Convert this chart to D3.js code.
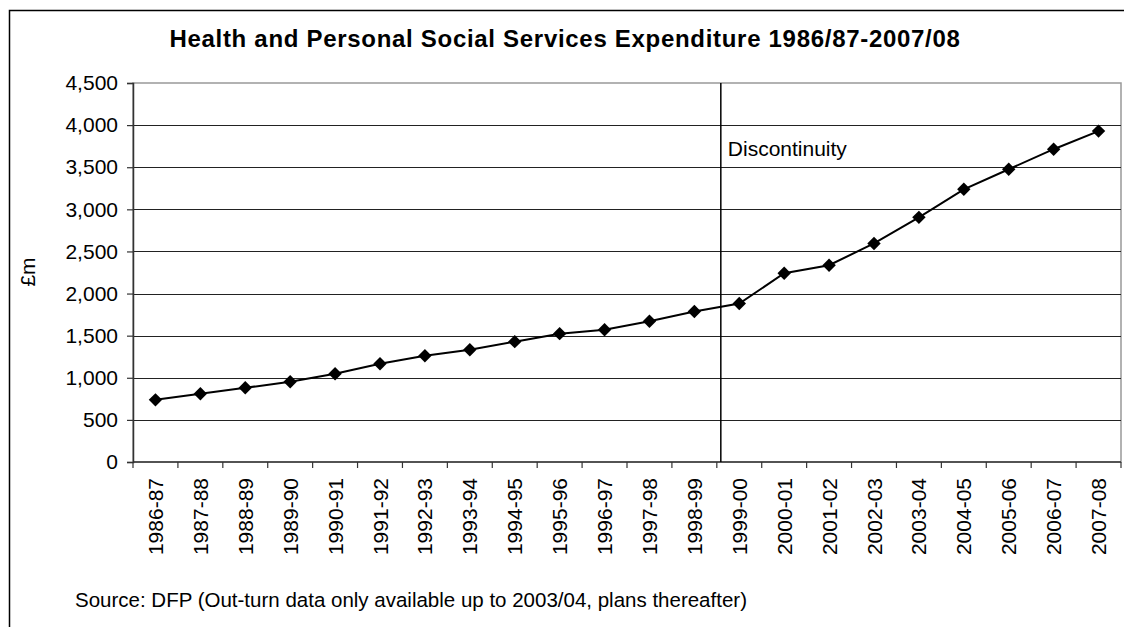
<!DOCTYPE html>
<html>
<head>
<meta charset="utf-8">
<script src="https://cdn.jsdelivr.net/npm/d3@7"></script>
<style>
  html, body { margin: 0; padding: 0; background: #fff; }
  svg { display: block; font-family: "Liberation Sans", Arial, sans-serif; }
</style>
</head>
<body>
<svg id="chart" width="1124" height="627"></svg>
<script>
// Financial years
const years = ["1986-87","1987-88","1988-89","1989-90","1990-91","1991-92","1992-93",
  "1993-94","1994-95","1995-96","1996-97","1997-98","1998-99","1999-00","2000-01",
  "2001-02","2002-03","2003-04","2004-05","2005-06","2006-07","2007-08"];
// Health and PSS expenditure, £m
const spend = [738, 810, 881, 952, 1048, 1167, 1262, 1333, 1429, 1524, 1571, 1671,
  1786, 1881, 2242, 2337, 2595, 2905, 3238, 3476, 3714, 3929];
const yTicks = [0, 500, 1000, 1500, 2000, 2500, 3000, 3500, 4000, 4500];
const breakYear = "1999-00";

const svg = d3.select("#chart");
const m = { left: 133, right: 1121, top: 83, bottom: 462 };

const x = d3.scaleBand().domain(years).range([m.left, m.right]);
const y = d3.scaleLinear().domain([0, 4500]).range([m.bottom, m.top]);

// outer chart frame
svg.append("rect").attr("x", 9.5).attr("y", 10.5).attr("width", 1130).attr("height", 640)
  .attr("fill", "#fff").attr("stroke", "#000").attr("stroke-width", 1.5);

// plot area frame
svg.append("rect").attr("x", m.left).attr("y", m.top)
  .attr("width", m.right - m.left).attr("height", m.bottom - m.top)
  .attr("fill", "#fff").attr("stroke", "#999").attr("stroke-width", 1.5);

// horizontal gridlines
svg.append("g").selectAll("line").data(yTicks.filter(d => d > 0 && d < 4500)).join("line")
  .attr("x1", m.left).attr("x2", m.right)
  .attr("y1", d => Math.round(y(d)) + 0.5).attr("y2", d => Math.round(y(d)) + 0.5)
  .attr("stroke", "#222").attr("stroke-width", 1);

// y axis
const yAxis = svg.append("g").attr("transform", `translate(${m.left},0)`)
  .call(d3.axisLeft(y).tickValues(yTicks).tickFormat(d3.format(",")).tickSizeOuter(0).tickSize(6).tickPadding(9));
yAxis.select(".domain").attr("stroke", "#333").attr("stroke-width", 1.5);
yAxis.selectAll(".tick line").attr("stroke", "#333").attr("stroke-width", 1.2);
yAxis.selectAll("text").attr("font-size", 21).attr("fill", "#000")
  .attr("font-family", "Liberation Sans, Arial, sans-serif");

// x axis with ticks on band edges
const xAxis = svg.append("g").attr("transform", `translate(0,${m.bottom})`);
xAxis.append("line").attr("x1", m.left).attr("x2", m.right)
  .attr("stroke", "#333").attr("stroke-width", 1.5);
const edges = years.map(d => x(d)).concat([m.right]);
xAxis.selectAll("line.tk").data(edges).join("line").attr("class", "tk")
  .attr("x1", d => d).attr("x2", d => d).attr("y1", 0).attr("y2", 6)
  .attr("stroke", "#333").attr("stroke-width", 1.2);
xAxis.selectAll("text").data(years).join("text")
  .attr("transform", d => `translate(${x(d) + x.bandwidth() / 2 + 7.5},16) rotate(-90)`)
  .attr("text-anchor", "end")
  .attr("font-size", 21).attr("fill", "#000")
  .text(d => d);

// y axis title
svg.append("text").attr("transform", "translate(35,272) rotate(-90)")
  .attr("text-anchor", "middle").attr("font-size", 21).text("£m");

// discontinuity marker
const bx = x(breakYear) + 4;
svg.append("line").attr("x1", bx).attr("x2", bx).attr("y1", m.top).attr("y2", m.bottom)
  .attr("stroke", "#000").attr("stroke-width", 1.5);
svg.append("text").attr("x", bx + 7).attr("y", 156).attr("font-size", 21).text("Discontinuity");

// expenditure line
const cx = d => x(d) + x.bandwidth() / 2;
svg.append("path").datum(years)
  .attr("fill", "none").attr("stroke", "#000").attr("stroke-width", 2)
  .attr("d", d3.line().x(d => cx(d)).y((d, i) => y(spend[i])));

// diamond markers
const diamond = d3.symbol().type(d3.symbolSquare).size(90);
svg.append("g").selectAll("path").data(years).join("path")
  .attr("d", diamond)
  .attr("transform", (d, i) => `translate(${cx(d)},${y(spend[i])}) rotate(45)`)
  .attr("fill", "#000");

// title
svg.append("text").attr("x", 565).attr("y", 47).attr("text-anchor", "middle")
  .attr("font-size", 24).attr("font-weight", "bold").attr("letter-spacing", 0.7)
  .text("Health and Personal Social Services Expenditure 1986/87-2007/08");

// source note
svg.append("text").attr("x", 75).attr("y", 607).attr("font-size", 20.5)
  .text("Source: DFP (Out-turn data only available up to 2003/04, plans thereafter)");
</script>
</body>
</html>
